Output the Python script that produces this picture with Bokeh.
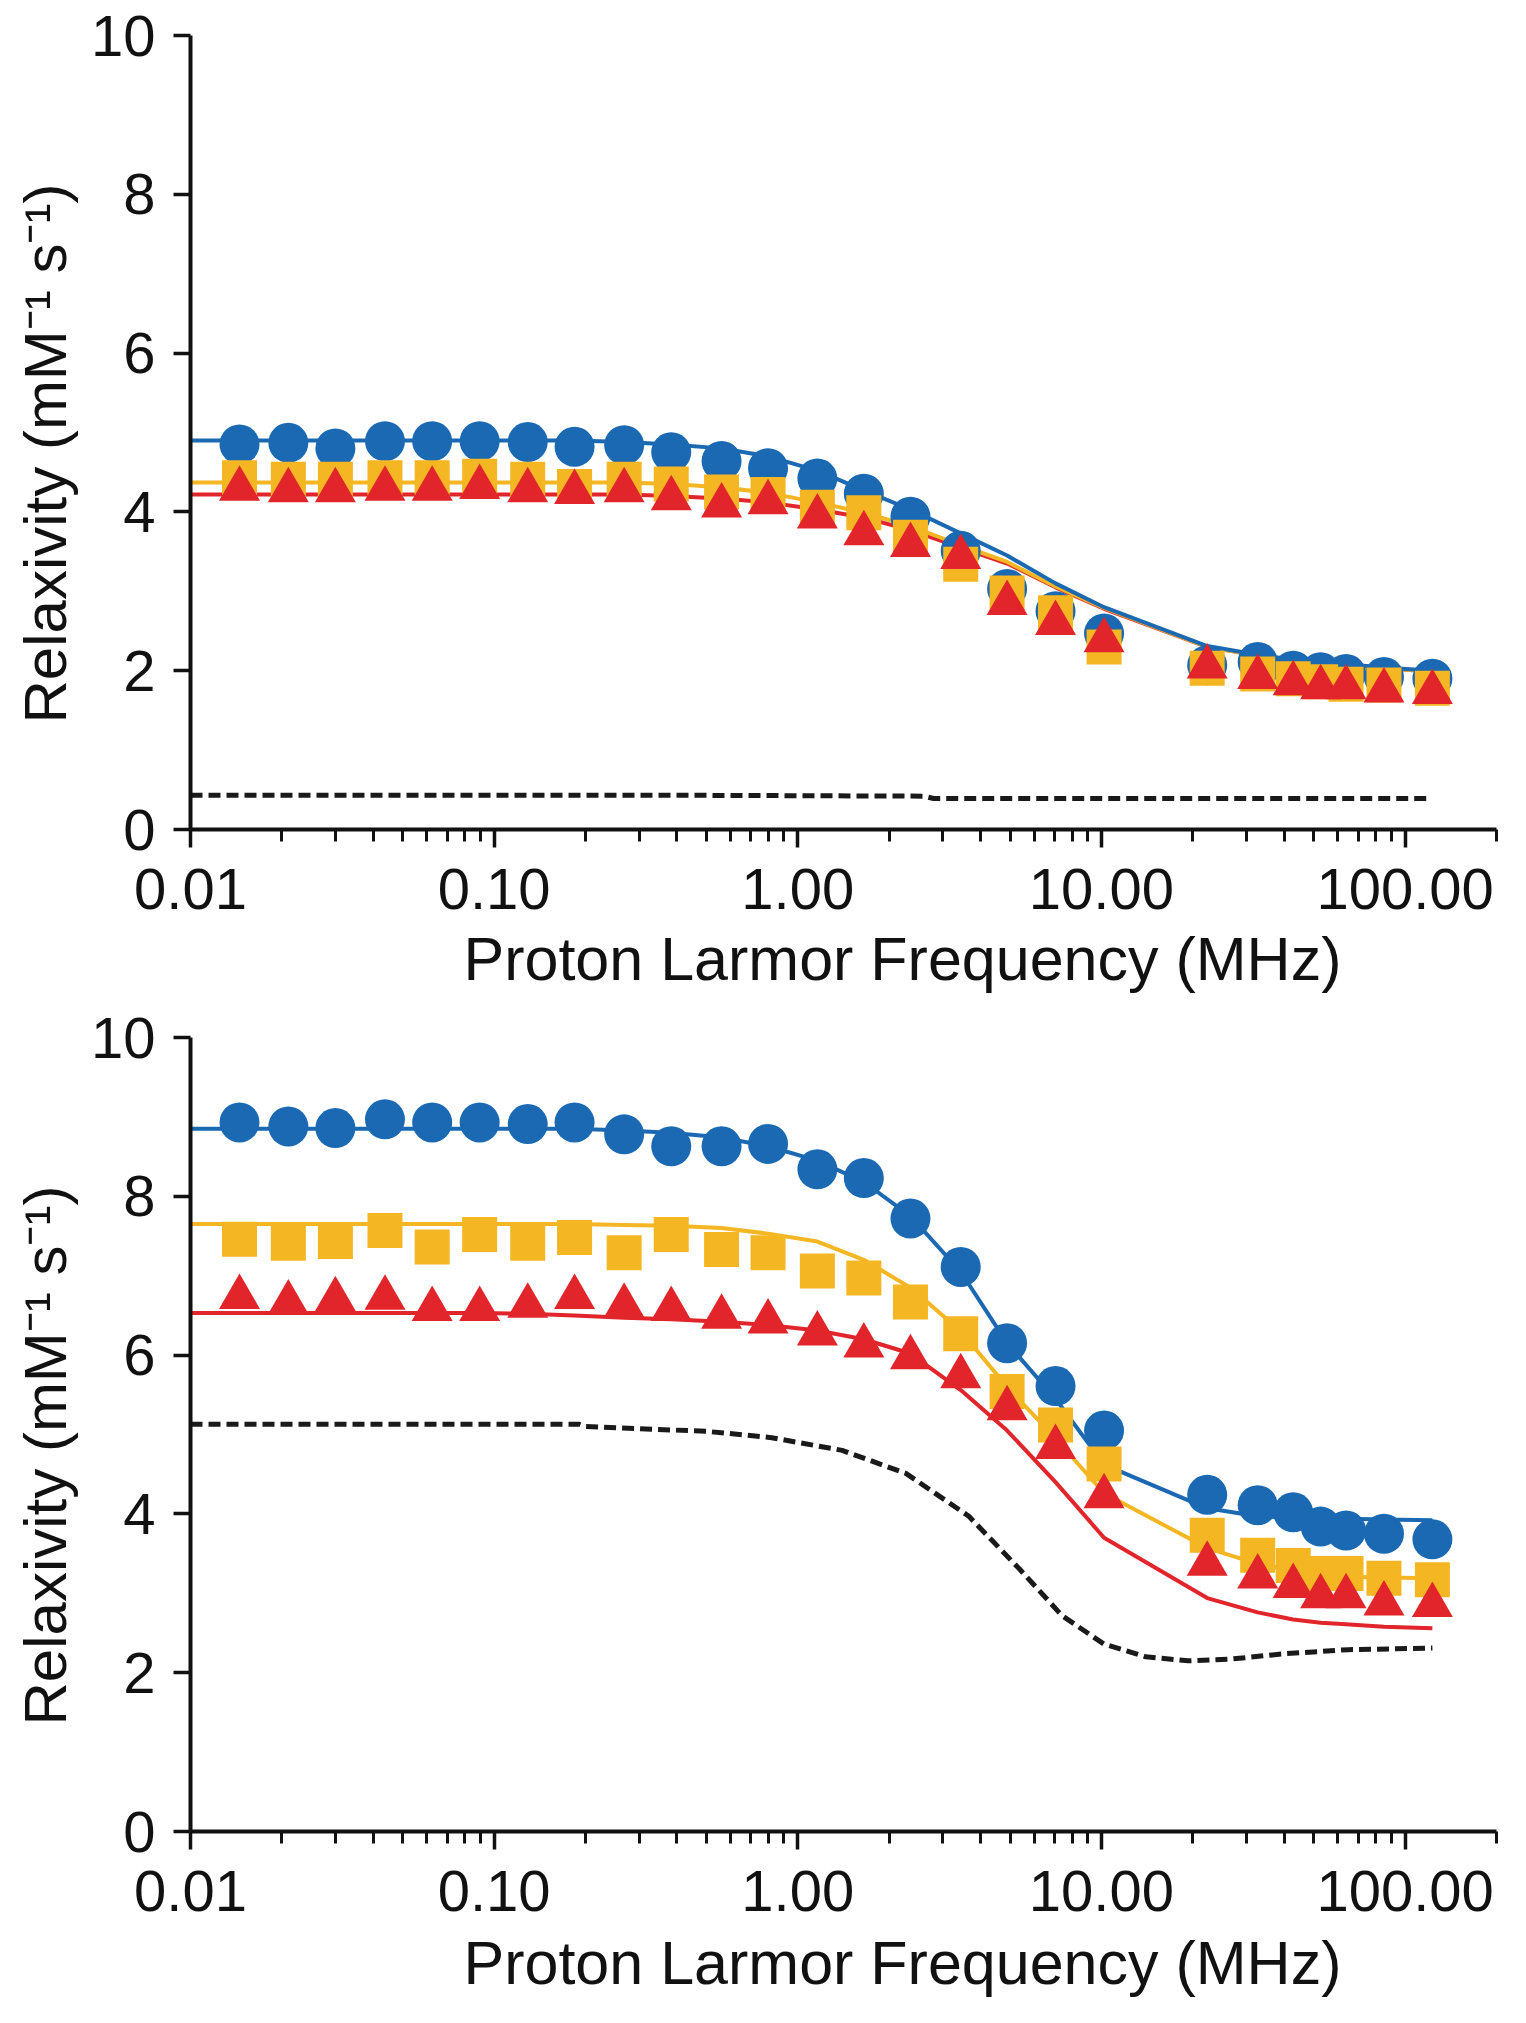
from bokeh.plotting import figure
from bokeh.layouts import column
from bokeh.models import Range1d, FixedTicker, PrintfTickFormatter, Title
from bokeh.embed import file_html
from bokeh.resources import INLINE

# ---- data ----
freq = [0.0145, 0.021, 0.030, 0.0437, 0.0625, 0.0896, 0.129, 0.184, 0.268, 0.383,
        0.561, 0.798, 1.16, 1.65, 2.35, 3.44, 4.89, 7.06, 10.2, 22.3,
        32.7, 42.8, 52.7, 63.9, 85.2, 123]
fit_freq = [0.01] + freq

# top panel
blue_top = [4.85, 4.87, 4.80, 4.89, 4.89, 4.89, 4.88, 4.82, 4.84, 4.75,
            4.64, 4.55, 4.42, 4.23, 3.94, 3.51, 3.03, 2.75, 2.47, 2.07,
            2.11, 2.00, 1.98, 1.96, 1.92, 1.90]
orange_top = [4.43, 4.41, 4.41, 4.43, 4.43, 4.45, 4.41, 4.32, 4.41, 4.35,
              4.25, 4.22, 4.06, 3.99, 3.68, 3.34, 2.98, 2.73, 2.30, 2.03,
              1.96, 1.90, 1.86, 1.83, 1.82, 1.78]
red_top = [4.29, 4.27, 4.27, 4.29, 4.29, 4.31, 4.27, 4.25, 4.27, 4.17,
           4.08, 4.12, 3.94, 3.73, 3.58, 3.43, 2.85, 2.60, 2.38, 2.05,
           1.92, 1.84, 1.79, 1.79, 1.75, 1.73]
blue_fit_top = [4.90, 4.90, 4.90, 4.90, 4.90, 4.90, 4.90, 4.90, 4.90, 4.88, 4.85,
                4.80, 4.70, 4.52, 4.27, 4.03, 3.73, 3.45, 3.10, 2.80, 2.31,
                2.20, 2.14, 2.11, 2.08, 2.04, 2.00]
orange_fit_top = [4.37, 4.37, 4.37, 4.37, 4.37, 4.37, 4.37, 4.37, 4.37, 4.37, 4.35,
                  4.31, 4.24, 4.12, 3.99, 3.82, 3.58, 3.37, 3.06, 2.79, 2.30,
                  2.19, 2.13, 2.10, 2.07, 2.03, 1.99]
red_fit_top = [4.22, 4.22, 4.22, 4.22, 4.22, 4.22, 4.22, 4.22, 4.22, 4.22, 4.20,
               4.17, 4.12, 4.03, 3.93, 3.77, 3.55, 3.35, 3.05, 2.78, 2.30,
               2.19, 2.13, 2.10, 2.07, 2.03, 1.99]
dash_freq_top = [0.01, 0.5, 2.6, 2.8, 120]
dash_top = [0.43, 0.43, 0.42, 0.39, 0.39]

# bottom panel
blue_bot = [8.93, 8.88, 8.86, 8.97, 8.93, 8.93, 8.91, 8.93, 8.78, 8.63,
            8.63, 8.66, 8.34, 8.23, 7.72, 7.11, 6.15, 5.61, 5.05, 4.24,
            4.11, 4.02, 3.84, 3.79, 3.75, 3.68]
orange_bot = [7.46, 7.41, 7.43, 7.57, 7.36, 7.52, 7.41, 7.48, 7.29, 7.52,
              7.33, 7.29, 7.06, 6.97, 6.67, 6.27, 5.54, 5.12, 4.63, 3.73,
              3.48, 3.35, 3.25, 3.25, 3.19, 3.17]
red_bot = [6.73, 6.66, 6.70, 6.72, 6.58, 6.58, 6.62, 6.73, 6.62, 6.58,
           6.48, 6.42, 6.27, 6.12, 5.97, 5.73, 5.33, 4.84, 4.22, 3.37,
           3.21, 3.09, 2.96, 2.96, 2.87, 2.85]
blue_fit_bot = [8.85, 8.85, 8.85, 8.85, 8.85, 8.85, 8.85, 8.85, 8.85, 8.83, 8.80,
                8.74, 8.63, 8.45, 8.18, 7.75, 7.05, 6.15, 5.45, 4.62, 4.07,
                3.97, 3.95, 3.95, 3.94, 3.93, 3.92]
orange_fit_bot = [7.65, 7.65, 7.65, 7.65, 7.65, 7.65, 7.65, 7.65, 7.65, 7.64, 7.63,
                  7.60, 7.53, 7.43, 7.20, 6.85, 6.30, 5.60, 4.95, 4.26, 3.57,
                  3.37, 3.29, 3.24, 3.21, 3.20, 3.19]
red_fit_bot = [6.53, 6.53, 6.53, 6.53, 6.53, 6.53, 6.53, 6.52, 6.50, 6.47, 6.45,
               6.42, 6.38, 6.31, 6.20, 6.02, 5.56, 5.05, 4.40, 3.70, 2.94,
               2.76, 2.67, 2.63, 2.61, 2.58, 2.56]
dash_freq_bot = [0.01, 0.19, 0.2, 0.5, 0.82, 1.4, 2.27, 3.66, 5.39, 7.41, 10.2,
                 14.0, 19.3, 26.5, 40.3, 64.9, 123]
dash_bot = [5.13, 5.13, 5.10, 5.04, 4.96, 4.80, 4.51, 3.97, 3.30, 2.72, 2.36,
            2.20, 2.15, 2.17, 2.24, 2.29, 2.31]

x_major = [0.01, 0.1, 1, 10, 100]
x_minor = [m * d for d in [0.01, 0.1, 1, 10, 100] for m in range(2, 10)
           if m * d <= 200]
y_major = [0, 2, 4, 6, 8, 10]

x_title = "Proton Larmor Frequency (MHz)"
y_title = "Relaxivity (mM\u207b\u00b9 s\u207b\u00b9)"

BLUE = "#1a69b2"
ORANGE = "#f4b622"
RED = "#e1252b"
INK = "#111111"
FONT = "Liberation Sans"


def make_panel(blue, orange, red, bfit, ofit, rfit, dfreq, dval,
               top_border, bottom_border, title_standoff):
    p = figure(x_axis_type="log", x_range=Range1d(0.01, 200), y_range=Range1d(0, 10),
               frame_width=1306, frame_height=794,
               min_border_left=190, min_border_right=20,
               min_border_top=top_border, min_border_bottom=bottom_border,
               output_backend="svg", toolbar_location=None)
    p.outline_line_color = None
    p.xgrid.visible = False
    p.ygrid.visible = False
    p.background_fill_color = "white"
    p.border_fill_color = "white"

    # fitted curves and reference line
    p.line(dfreq, dval, line_color="#1a1a1a", line_width=5, line_dash="12 6")
    p.line(fit_freq, rfit, line_color=RED, line_width=4)
    p.line(fit_freq, ofit, line_color=ORANGE, line_width=4)
    p.line(fit_freq, bfit, line_color=BLUE, line_width=4)

    # measured data
    p.scatter(freq, blue, marker="circle", size=40, fill_color=BLUE, line_color=None)
    p.scatter(freq, orange, marker="square", size=35, fill_color=ORANGE, line_color=None)
    p.scatter(freq, red, marker="triangle", size=41, fill_color=RED, line_color=None)

    xa = p.xaxis[0]
    xa.ticker = FixedTicker(ticks=x_major, minor_ticks=x_minor)
    xa.formatter = PrintfTickFormatter(format="%.2f")
    ya = p.yaxis[0]
    ya.ticker = FixedTicker(ticks=y_major, minor_ticks=[])

    for ax in (xa, ya):
        ax.axis_line_width = 4
        ax.axis_line_color = INK
        ax.major_tick_line_width = 3.5
        ax.major_tick_line_color = INK
        ax.minor_tick_line_width = 3
        ax.minor_tick_line_color = INK
        ax.major_tick_in = 0
        ax.minor_tick_in = 0
        ax.major_label_text_font = FONT
        ax.major_label_text_font_size = "58px"
        ax.major_label_text_color = INK

    xa.major_tick_out = 18
    xa.minor_tick_out = 12
    xa.major_label_standoff = 21

    ya.major_tick_out = 17
    ya.minor_tick_out = 0
    ya.major_label_standoff = 18

    # axis titles as side-panel titles (allow an offset like the reference)
    p.add_layout(Title(text=x_title, align="left", offset=273, standoff=title_standoff,
                       text_font=FONT, text_font_size="61px",
                       text_font_style="normal", text_color=INK), "below")
    p.add_layout(Title(text=y_title, align="left", offset=106, standoff=13,
                       vertical_align="top",
                       text_font=FONT, text_font_size="60px",
                       text_font_style="normal", text_color=INK), "left")
    return p


p1 = make_panel(blue_top, orange_top, red_top, blue_fit_top, orange_fit_top,
                red_fit_top, dash_freq_top, dash_top, 35, 172, 22)
p2 = make_panel(blue_bot, orange_bot, red_bot, blue_fit_bot, orange_fit_bot,
                red_fit_bot, dash_freq_bot, dash_bot, 34, 176, 26)

layout = column(p1, p2, spacing=0)
open("out.html", "w").write(file_html(layout, INLINE))
